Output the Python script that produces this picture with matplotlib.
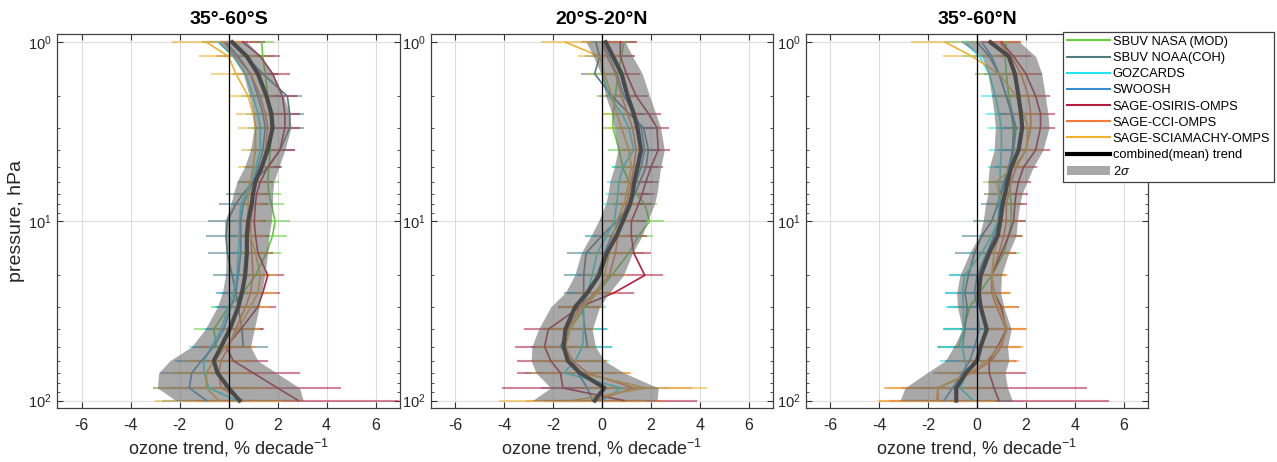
import numpy as np
import matplotlib
matplotlib.use("Agg")
import matplotlib.pyplot as plt
from matplotlib.lines import Line2D
from matplotlib.patches import Patch
from matplotlib.ticker import LogLocator, NullFormatter, FixedLocator

plt.rcParams['font.family'] = ['Liberation Sans', 'DejaVu Sans']
plt.rcParams['mathtext.fontset'] = 'custom'
plt.rcParams['mathtext.rm'] = 'Liberation Sans'
plt.rcParams['mathtext.it'] = 'Liberation Sans:italic'

nan = np.nan

# pressure levels (hPa)
levels = [1, 1.2, 1.5, 2, 2.5, 3, 4, 5, 6, 7, 8, 10, 12, 15, 20, 25, 30, 40, 50, 60, 70, 85, 100]

series_names = ['SBUV NASA (MOD)', 'SBUV NOAA(COH)', 'GOZCARDS', 'SWOOSH',
                'SAGE-OSIRIS-OMPS', 'SAGE-CCI-OMPS', 'SAGE-SCIAMACHY-OMPS']
series_colors = ['#62d13b', '#4f7d82', '#22e6ee', '#3b8fd0', '#b3203f', '#f67a3c', '#edb22f']

region_titles = ['35\u00b0-60\u00b0S', '20\u00b0S-20\u00b0N', '35\u00b0-60\u00b0N']

# ---- 35-60S ----
trend_sh = [
    [1.35, 1.4, 1.5, 1.6, 1.7, 1.75, 1.7, 1.65, 1.6, 1.65, 1.75, 1.9, 1.8, 1.55, 1.1, 0.6, 0.0, -0.6, -0.5, nan, nan, nan, nan],
    [0.2, 0.7, 1.4, 2.4, 2.5, 2.5, 2.1, 1.6, 1.0, 0.6, 0.3, -0.05, -0.1, -0.05, 0.15, 0.3, 0.4, 0.55, 0.6, nan, nan, nan, nan],
    [-0.4, 0.2, 0.7, 1.0, 1.2, 1.3, 1.3, 1.1, 0.9, 0.7, 0.5, 0.45, 0.45, 0.4, 0.35, 0.2, 0.0, -0.3, -0.7, -1.0, -1.0, -0.8, 0.35],
    [-0.1, 0.4, 0.9, 1.2, 1.4, 1.5, 1.4, 1.2, 1.0, 0.8, 0.6, 0.5, 0.5, 0.5, 0.4, 0.3, 0.1, -0.2, -0.6, -1.1, -1.5, -1.6, -0.9],
    [0.6, 1.3, 1.8, 2.2, 2.3, 2.3, 2.1, 1.6, 1.3, 1.15, 1.1, 1.05, 1.1, 1.2, 1.6, 1.4, 1.2, 0.5, -0.1, 0.2, 1.0, 2.0, 2.85],
    [-0.2, 0.3, 0.9, 1.3, 1.5, 1.6, 1.5, 1.3, 1.1, 1.0, 1.0, 0.9, 0.9, 0.95, 1.0, 0.9, 0.7, 0.3, 0.0, -0.3, -0.4, -0.3, 0.6],
    [-0.9, 0.0, 0.3, 0.8, 1.0, 1.1, 1.1, 1.0, 0.9, 0.8, 0.8, 0.8, 0.9, 1.1, 1.3, 1.2, 0.9, 0.4, -0.1, -0.6, -0.9, -0.9, -0.4],
]
err_sh = [
    [0.5, 0.5, 0.5, 0.45, 0.45, 0.45, 0.45, 0.45, 0.45, 0.5, 0.5, 0.6, 0.6, 0.6, 0.6, 0.6, 0.7, 0.8, 0.9, nan, nan, nan, nan],
    [0.6, 0.6, 0.6, 0.6, 0.6, 0.6, 0.6, 0.6, 0.6, 0.7, 0.7, 0.8, 0.8, 0.8, 0.8, 0.8, 0.8, 0.9, 1.0, nan, nan, nan, nan],
    [0.7, 0.6, 0.55, 0.5, 0.5, 0.5, 0.5, 0.5, 0.5, 0.5, 0.5, 0.5, 0.5, 0.5, 0.5, 0.6, 0.6, 0.7, 0.9, 1.1, 1.3, 1.5, 1.6],
    [0.7, 0.6, 0.55, 0.5, 0.5, 0.5, 0.5, 0.5, 0.5, 0.5, 0.5, 0.5, 0.5, 0.55, 0.55, 0.6, 0.6, 0.7, 0.9, 1.1, 1.3, 1.5, 1.8],
    [0.9, 0.8, 0.7, 0.6, 0.6, 0.6, 0.6, 0.55, 0.5, 0.5, 0.5, 0.5, 0.55, 0.6, 0.65, 0.7, 0.75, 0.9, 1.1, 1.4, 1.9, 2.6, 4.1],
    [0.9, 0.8, 0.7, 0.6, 0.6, 0.6, 0.6, 0.55, 0.5, 0.5, 0.5, 0.5, 0.55, 0.6, 0.65, 0.7, 0.75, 0.9, 1.1, 1.3, 1.7, 2.2, 2.4],
    [1.4, 1.2, 1.0, 0.8, 0.7, 0.7, 0.6, 0.6, 0.55, 0.55, 0.55, 0.55, 0.6, 0.6, 0.65, 0.7, 0.75, 0.9, 1.1, 1.3, 1.7, 2.2, 2.6],
]
mean_sh = [0.15, 0.75, 1.2, 1.55, 1.75, 1.8, 1.6, 1.35, 1.1, 1.0, 0.95, 0.8, 0.75, 0.75, 0.68, 0.55, 0.4, 0.05, -0.3, -0.6, -0.45, 0.0, 0.45]
sigma_sh = [0.6, 0.6, 0.6, 0.7, 0.75, 0.75, 0.7, 0.7, 0.75, 0.8, 0.85, 0.95, 0.9, 0.85, 0.8, 0.8, 0.85, 1.0, 1.2, 1.8, 2.4, 2.9, 2.6]

# ---- 20S-20N ----
trend_eq = [
    [0.9, 0.8, 0.65, 0.55, 0.45, 0.45, 0.7, 0.85, 1.1, 1.4, 1.75, 1.95, 1.5, 1.1, 0.4, -0.2, -0.7, -1.3, -1.7, nan, nan, nan, nan],
    [-0.25, -0.1, -0.3, 0.4, 1.1, 1.7, 1.9, 1.8, 1.55, 1.35, 1.15, 0.6, 0.0, -0.65, -0.75, -0.75, -0.8, -0.7, -0.6, nan, nan, nan, nan],
    [0.05, 0.0, 0.0, 0.3, 0.8, 1.1, 1.3, 0.85, 0.7, 0.65, 0.6, 0.5, 0.2, -0.2, -0.4, -0.6, -0.75, -0.75, -0.8, -1.1, -1.55, 0.8, 0.0],
    [0.0, 0.3, 0.6, 0.9, 1.3, 1.6, 1.75, 1.6, 1.4, 1.25, 1.1, 0.7, 0.4, 0.1, -0.2, -0.55, -0.9, -1.4, -1.7, -1.2, -1.0, -0.6, -0.4],
    [0.75, 0.75, 1.0, 1.4, 1.9, 2.25, 2.3, 2.0, 1.8, 1.65, 1.5, 1.2, 1.2, 1.3, 1.75, 0.5, -0.9, -2.2, -2.35, -2.1, -1.7, -1.6, 0.9],
    [0.0, 0.2, 0.55, 0.8, 1.05, 1.25, 1.4, 1.3, 1.2, 1.1, 1.0, 0.8, 0.65, 0.55, 0.3, -0.3, -0.9, -1.4, -1.5, -1.2, -0.6, 1.3, -0.3],
    [-1.5, -0.1, 0.1, 0.4, 0.6, 0.8, 1.1, 1.2, 1.1, 1.0, 0.9, 0.6, 0.45, 0.3, 0.1, -0.2, -0.8, -1.3, -1.5, -1.3, -0.9, 1.8, -1.2],
]
err_eq = [
    [0.5, 0.5, 0.45, 0.45, 0.45, 0.45, 0.45, 0.45, 0.5, 0.5, 0.5, 0.6, 0.6, 0.6, 0.6, 0.7, 0.8, 0.9, 1.0, nan, nan, nan, nan],
    [0.6, 0.6, 0.55, 0.5, 0.5, 0.5, 0.5, 0.5, 0.55, 0.6, 0.6, 0.7, 0.7, 0.8, 0.8, 0.8, 0.9, 0.9, 1.0, nan, nan, nan, nan],
    [0.6, 0.5, 0.5, 0.5, 0.45, 0.45, 0.45, 0.45, 0.5, 0.5, 0.55, 0.6, 0.7, 0.75, 0.8, 0.85, 0.9, 1.0, 1.2, 1.4, 1.6, 1.9, 2.2],
    [0.6, 0.5, 0.5, 0.5, 0.45, 0.45, 0.45, 0.45, 0.5, 0.5, 0.55, 0.6, 0.7, 0.75, 0.8, 0.85, 0.9, 1.0, 1.2, 1.4, 1.6, 1.9, 2.0],
    [0.7, 0.6, 0.55, 0.5, 0.5, 0.5, 0.5, 0.5, 0.5, 0.5, 0.55, 0.6, 0.65, 0.7, 0.75, 0.8, 0.9, 1.0, 1.2, 1.4, 1.8, 2.5, 3.0],
    [0.7, 0.6, 0.55, 0.5, 0.5, 0.5, 0.5, 0.5, 0.5, 0.5, 0.55, 0.6, 0.65, 0.7, 0.75, 0.8, 0.9, 1.0, 1.2, 1.4, 1.8, 2.4, 2.8],
    [1.0, 0.9, 0.7, 0.6, 0.55, 0.55, 0.5, 0.5, 0.5, 0.5, 0.55, 0.6, 0.65, 0.7, 0.75, 0.8, 0.9, 1.0, 1.2, 1.5, 2.0, 2.5, 3.0],
]
mean_eq = [0.15, 0.45, 0.8, 1.05, 1.3, 1.45, 1.6, 1.45, 1.32, 1.25, 1.15, 0.85, 0.6, 0.2, -0.12, -0.6, -1.1, -1.5, -1.57, -1.4, -0.9, 0.1, -0.3]
sigma_eq = [0.8, 0.8, 0.85, 0.9, 0.9, 0.95, 0.95, 0.95, 1.0, 1.0, 1.0, 1.0, 1.05, 1.05, 1.0, 0.9, 1.0, 1.1, 1.3, 1.5, 1.8, 2.2, 2.55]

# ---- 35-60N ----
trend_nh = [
    [1.2, 1.15, 1.2, 1.3, 1.45, 1.55, 1.5, 1.4, 1.35, 1.35, 1.4, 1.4, 1.3, 1.1, 0.6, 0.1, -0.3, -0.55, -0.75, nan, nan, nan, nan],
    [0.0, 0.5, 0.9, 1.2, 1.4, 1.5, 1.45, 1.3, 1.1, 0.95, 0.85, 0.6, 0.2, -0.1, -0.35, -0.5, -0.4, -0.5, -0.6, nan, nan, nan, nan],
    [-0.5, 0.1, 0.5, 0.75, 0.9, 1.0, 1.0, 0.95, 0.95, 0.9, 0.9, 0.85, 0.6, 0.2, -0.5, -0.6, -0.55, -0.55, -0.6, -0.5, -0.4, -0.7, -0.15],
    [0.2, 0.6, 0.9, 1.2, 1.45, 1.6, 1.5, 1.3, 1.15, 1.0, 0.95, 0.9, 0.7, 0.4, 0.0, -0.1, 0.0, 0.1, -0.1, -0.3, -0.6, -1.0, -1.35],
    [1.0, 1.5, 2.0, 2.4, 2.6, 2.6, 2.4, 1.9, 1.7, 1.6, 1.55, 1.5, 1.3, 1.0, 0.6, 0.7, 1.0, 1.2, 0.85, 0.5, 0.5, 0.7, 0.9],
    [0.9, 1.4, 1.8, 2.1, 2.2, 2.2, 2.0, 1.6, 1.4, 1.3, 1.2, 1.2, 1.1, 0.9, 0.6, 0.6, 0.8, 1.2, 1.0, 0.6, -0.2, -1.6, -1.6],
    [-1.3, -0.2, 0.9, 1.6, 1.9, 2.1, 2.0, 1.5, 0.8, 0.9, 1.1, 1.0, 0.9, 0.7, 0.6, 0.7, 0.9, 1.25, 0.9, 0.4, -0.3, -1.6, -1.65],
]
err_nh = [
    [0.5, 0.5, 0.5, 0.5, 0.5, 0.5, 0.5, 0.5, 0.5, 0.5, 0.5, 0.55, 0.6, 0.6, 0.6, 0.65, 0.7, 0.8, 0.9, nan, nan, nan, nan],
    [0.6, 0.6, 0.6, 0.6, 0.6, 0.6, 0.6, 0.6, 0.6, 0.65, 0.7, 0.75, 0.8, 0.8, 0.8, 0.8, 0.8, 0.9, 1.0, nan, nan, nan, nan],
    [0.8, 0.7, 0.6, 0.6, 0.55, 0.55, 0.5, 0.5, 0.5, 0.5, 0.5, 0.5, 0.55, 0.6, 0.6, 0.65, 0.7, 0.8, 0.9, 1.0, 1.2, 1.4, 1.6],
    [0.8, 0.7, 0.6, 0.6, 0.55, 0.55, 0.5, 0.5, 0.5, 0.5, 0.5, 0.5, 0.55, 0.6, 0.6, 0.65, 0.7, 0.8, 0.9, 1.0, 1.2, 1.4, 1.6],
    [0.8, 0.7, 0.65, 0.6, 0.6, 0.6, 0.6, 0.55, 0.5, 0.5, 0.5, 0.5, 0.55, 0.6, 0.6, 0.65, 0.7, 0.8, 0.9, 1.1, 1.5, 3.8, 4.5],
    [0.9, 0.8, 0.7, 0.6, 0.6, 0.6, 0.6, 0.55, 0.5, 0.5, 0.5, 0.5, 0.55, 0.6, 0.6, 0.65, 0.7, 0.8, 0.9, 1.1, 1.4, 2.2, 2.4],
    [1.4, 1.2, 1.0, 0.8, 0.7, 0.65, 0.6, 0.6, 0.55, 0.55, 0.55, 0.55, 0.6, 0.6, 0.65, 0.7, 0.75, 0.8, 0.9, 1.1, 1.4, 2.1, 2.4],
]
mean_nh = [0.55, 1.3, 1.55, 1.7, 1.8, 1.85, 1.7, 1.4, 1.25, 1.15, 1.05, 0.95, 0.85, 0.5, 0.15, 0.07, 0.15, 0.4, 0.15, 0.0, -0.45, -0.85, -0.85]
sigma_nh = [1.2, 1.1, 1.1, 1.1, 1.1, 1.1, 1.0, 0.9, 0.8, 0.7, 0.7, 0.7, 0.75, 0.8, 0.85, 0.9, 0.95, 1.0, 1.1, 1.3, 1.6, 2.1, 2.3]

panels = [
    (trend_sh, err_sh, mean_sh, sigma_sh),
    (trend_eq, err_eq, mean_eq, sigma_eq),
    (trend_nh, err_nh, mean_nh, sigma_nh),
]

W, H = 1277, 462
fig = plt.figure(figsize=(W / 100, H / 100), dpi=100)
axes_px = [(57, 343), (431, 342), (806, 342)]
top_px, bot_px = 34, 408

p = np.array(levels, dtype=float)
band_color = '#6e6e6e'
band_alpha = 0.6
text_color = '#262626'

for i, ((left, width), (trend, err, mean, sigma)) in enumerate(zip(axes_px, panels)):
    ax = fig.add_axes([left / W, 1 - bot_px / H, width / W, (bot_px - top_px) / H])
    for j, (vals, errs) in enumerate(zip(trend, err)):
        v = np.array(vals, dtype=float)
        e = np.array(errs, dtype=float)
        ok = ~np.isnan(v)
        ax.hlines(p[ok], v[ok] - e[ok], v[ok] + e[ok], color=series_colors[j],
                  alpha=0.55, lw=1.5, zorder=2)
        ax.plot(v[ok], p[ok], color=series_colors[j], lw=1.2, zorder=3)
    m = np.array(mean, dtype=float)
    s = np.array(sigma, dtype=float)
    ax.fill_betweenx(p, m - s, m + s, color=band_color, alpha=band_alpha, lw=0, zorder=4)
    ax.plot(m, p, color='#4a4a4a', lw=3, zorder=5)
    ax.axvline(0, color='black', lw=0.9, zorder=6)

    ax.set_yscale('log')
    ax.set_ylim(110, 0.9)
    ax.set_xlim(-7, 7)
    ax.set_xticks([-6, -4, -2, 0, 2, 4, 6])
    ax.set_xticklabels(['-6', '-4', '-2', '0', '2', '4', '6'])
    ax.yaxis.set_major_locator(FixedLocator([1, 10, 100]))
    ax.yaxis.set_minor_locator(LogLocator(base=10, subs=np.arange(2, 10)))
    ax.yaxis.set_minor_formatter(NullFormatter())
    ax.grid(True, which='major', color='#dddddd', lw=0.8, zorder=0)
    ax.set_axisbelow(True)
    ax.tick_params(which='both', direction='in', top=True, right=True,
                   colors='#333333', labelcolor=text_color)
    ax.tick_params(which='major', length=4)
    ax.tick_params(which='minor', length=2.5)
    ax.tick_params(axis='x', labelsize=11.5, pad=7)
    ax.tick_params(axis='y', labelsize=10.5, pad=4)
    for sp in ax.spines.values():
        sp.set_color('#404040')
        sp.set_linewidth(0.9)
    ax.set_title(region_titles[i], fontsize=14, fontweight='bold', pad=7)
    ax.set_xlabel('ozone trend, % decade$^{-1}$', fontsize=13, color=text_color, labelpad=3)
    if i == 0:
        ax.set_ylabel('pressure, hPa', fontsize=14, color=text_color, labelpad=2)

handles = [Line2D([], [], color=c, lw=1.5) for c in series_colors]
handles.append(Line2D([], [], color='black', lw=3))
handles.append(Patch(facecolor=band_color, alpha=band_alpha, edgecolor='none'))
labels = series_names + ['combined(mean) trend', '2$\\sigma$']
leg = fig.legend(handles, labels, loc='upper left',
                 bbox_to_anchor=(1063 / W, 1 - 32 / H), fontsize=9.3,
                 frameon=True, fancybox=False, framealpha=1, edgecolor='#404040',
                 handlelength=3.3, handletextpad=0.25, labelspacing=0.32,
                 borderpad=0.3, borderaxespad=0)
leg.get_frame().set_linewidth(0.9)

fig.savefig('out.png', dpi=100)
